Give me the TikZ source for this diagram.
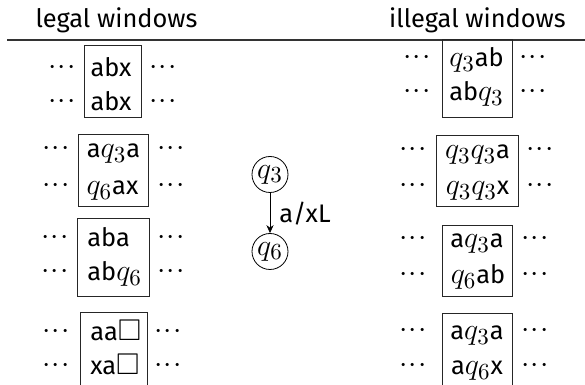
\RequirePackage{fix-cm}
\documentclass[tikz,border=0pt]{standalone}
\usepackage{amssymb}
\usepackage[no-math]{fontspec}
\setmainfont{Fira Sans}
\DeclareMathSizes{12.7}{15}{11.5}{9}
\usetikzlibrary{arrows.meta}
\newcommand{\rowdots}{${\cdot}\mkern0.6mu{\cdot}\mkern0.6mu{\cdot}$}
\begin{document}
\begin{tikzpicture}[x=0.5pt,y=-0.5pt,
  every node/.style={font=\fontsize{12.7}{15}\selectfont},
  txt/.style={inner sep=0pt,anchor=base},
  txtl/.style={inner sep=0pt,anchor=base west},
  dts/.style={inner sep=0pt,anchor=base,yshift=1pt},
  win/.style={draw=black!85,line width=0.5pt,rectangle,inner sep=0pt},
  state/.style={draw,circle,line width=0.4pt,inner sep=0pt,minimum size=18pt},
  rule/.style={draw=black!80,line width=0.6pt},
  trans/.style={line width=0.4pt,-{Stealth[length=4pt,width=3.6pt]}}]
\useasboundingbox (0,0) rectangle (585,385);
\clip (0,0) rectangle (585,385);
% headers
\node[txt] (hL) at (116.5,28) {legal windows};
\node[txt] (hR) at (477.5,28) {illegal windows};
\coordinate (hl) at (7,40);
\coordinate (hr) at (585,40);
\draw[rule] (hl) -- (hr);
% left boxes
\node[win,minimum width=28.5pt,minimum height=36pt] (L1) at (112.5,82) {};
\node[win,minimum width=35pt,minimum height=36pt] (L2) at (113,171) {};
\node[win,minimum width=36pt,minimum height=39pt] (L3) at (113,258) {};
\node[win,minimum width=33.5pt,minimum height=43.5pt] (L4) at (113.5,356.5) {};
% right boxes
\node[win,minimum width=35pt,minimum height=39pt] (R1) at (477,79) {};
\node[win,minimum width=41pt,minimum height=35.5pt] (R2) at (477,171.5) {};
\node[win,minimum width=35pt,minimum height=35.5pt] (R3) at (477,261.5) {};
\node[win,minimum width=35pt,minimum height=43pt] (R4) at (477,357) {};
% left texts
\node[txt] (L1a) at (111,77) {abx};
\node[txt] (L1b) at (111,111) {abx};
\node[txt] (L2a) at (113.5,158) {a$q_3$a};
\node[txt] (L2b) at (112.5,195) {$q_6$ax};
\node[txtl] (L3a) at (87,247) {aba};
\node[txtl] (L3b) at (87,281) {ab$q_6$};
\node[txtl] (L4a) at (90,341) {aa$\square$};
\node[txtl] (L4b) at (90,375) {xa$\square$};
% right texts
\node[txt] (R1a) at (476.5,67) {$q_3$ab};
\node[txt] (R1b) at (476.5,101) {ab$q_3$};
\node[txt] (R2a) at (477.5,159) {$q_3q_3$a};
\node[txt] (R2b) at (477.5,195) {$q_3q_3$x};
\node[txt] (R3a) at (477,248) {a$q_3$a};
\node[txt] (R3b) at (478,284) {$q_6$ab};
\node[txt] (R4a) at (477,340) {a$q_3$a};
\node[txt] (R4b) at (477,375) {a$q_6$x};
% dots left
\node[dts] (dL1a) at (62,77) {\rowdots};
\node[dts] (dL1b) at (62,111) {\rowdots};
\node[dts] (eL1a) at (163,77) {\rowdots};
\node[dts] (eL1b) at (163,111) {\rowdots};
\node[dts] (dL2a) at (56,158) {\rowdots};
\node[dts] (dL2b) at (56,195) {\rowdots};
\node[dts] (eL2a) at (171,158) {\rowdots};
\node[dts] (eL2b) at (171,195) {\rowdots};
\node[dts] (dL3a) at (55,247) {\rowdots};
\node[dts] (dL3b) at (55,281) {\rowdots};
\node[dts] (eL3a) at (171,247) {\rowdots};
\node[dts] (eL3b) at (171,281) {\rowdots};
\node[dts] (dL4a) at (56,341) {\rowdots};
\node[dts] (dL4b) at (56,375) {\rowdots};
\node[dts] (eL4a) at (168,341) {\rowdots};
\node[dts] (eL4b) at (168,375) {\rowdots};
% dots right
\node[dts] (dR1a) at (417,67) {\rowdots};
\node[dts] (dR1b) at (417,101) {\rowdots};
\node[dts] (eR1a) at (533,67) {\rowdots};
\node[dts] (eR1b) at (533,101) {\rowdots};
\node[dts] (dR2a) at (413,159) {\rowdots};
\node[dts] (dR2b) at (413,195) {\rowdots};
\node[dts] (eR2a) at (540,159) {\rowdots};
\node[dts] (eR2b) at (540,195) {\rowdots};
\node[dts] (dR3a) at (413,248) {\rowdots};
\node[dts] (dR3b) at (413,284) {\rowdots};
\node[dts] (eR3a) at (535,248) {\rowdots};
\node[dts] (eR3b) at (535,284) {\rowdots};
\node[dts] (dR4a) at (413,340) {\rowdots};
\node[dts] (dR4b) at (413,375) {\rowdots};
\node[dts] (eR4a) at (535,340) {\rowdots};
\node[dts] (eR4b) at (535,375) {\rowdots};
% automaton
\node[state] (q3) at (270,174.5) {$q_3$};
\node[state] (q6) at (270,251.5) {$q_6$};
\draw[trans] (q3) -- (q6);
\node[anchor=west,inner sep=0pt] (lab) at (279,214) {a/xL};
\end{tikzpicture}
\end{document}
